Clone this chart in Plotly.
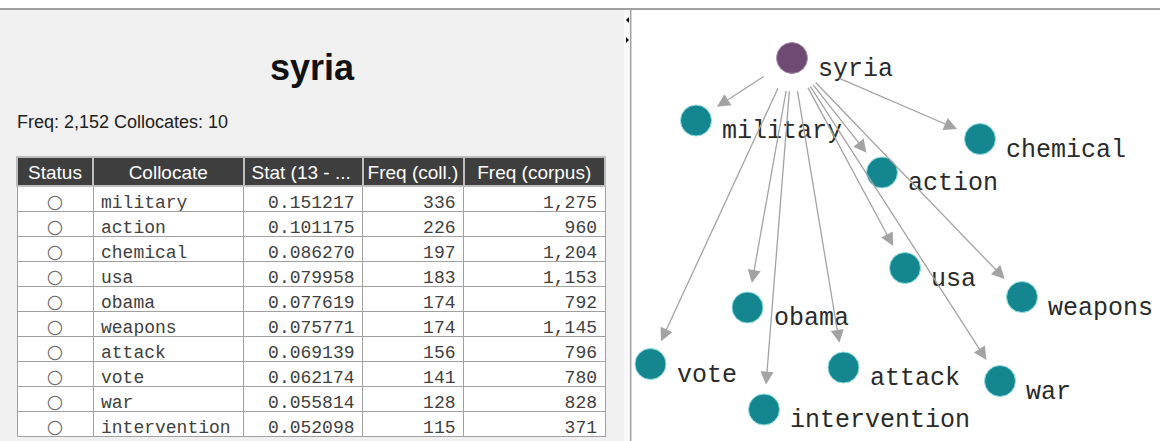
import plotly.graph_objects as go

# ---------------- data ----------------
node_word = "syria"
node_freq = 2152

collocates = ["military", "action", "chemical", "usa", "obama",
              "weapons", "attack", "vote", "war", "intervention"]
stat_values = [0.151217, 0.101175, 0.086270, 0.079958, 0.077619,
               0.075771, 0.069139, 0.062174, 0.055814, 0.052098]
freq_coll = [336, 226, 197, 183, 174, 174, 156, 141, 128, 115]
freq_corpus = [1275, 960, 1204, 1153, 792, 1145, 796, 780, 828, 371]
status = ["\u25cb"] * len(collocates)
column_headers = ["Status", "Collocate", "Stat (13 - ...", "Freq (coll.)", "Freq (corpus)"]

# network layout (positions of the nodes in the graph view)
graph_nodes = [node_word] + collocates
graph_x = [792, 696, 882, 980, 905, 747.5, 1022, 843.5, 650.5, 1000, 764]
graph_y = [58, 120.5, 172.5, 139, 268, 307.5, 297, 367.5, 364, 381, 409.5]

# ---------------- styles ----------------
W, H = 1160, 441
PANEL_BG = "#f0f0f0"
NODE_COLOR = "#13868f"
HUB_COLOR = "#6f4a73"
EDGE_COLOR = "#a3a3a3"
MONO = "Liberation Mono"
SANS = "Liberation Sans"

fig = go.Figure()

# ---- table (left panel)
table_left, table_right, table_top = 17, 605, 157
fig.add_trace(go.Table(
    domain=dict(x=[table_left / W, table_right / W], y=[0, 1 - table_top / H]),
    columnwidth=[76, 150.5, 119, 101, 141.5],
    header=dict(
        values=[h.replace(" ", "\u00a0") for h in column_headers],
        fill_color="#3e3e3e",
        line=dict(color="#bdbdbd", width=2),
        font=dict(family=SANS, size=19, color="white"),
        align=["center", "center", "left", "center", "center"],
        height=29,
    ),
    cells=dict(
        values=[status, collocates, stat_values, freq_coll, freq_corpus],
        format=["", "", ".6f", "d", ",d"],
        fill_color="white",
        line=dict(color="#a0a0a0", width=1),
        font=dict(family=["DejaVu Sans", MONO, MONO, MONO, MONO],
                  size=[19, 18, 18, 18, 18],
                  color=["#6a6a6a", "#404040", "#404040", "#404040", "#404040"]),
        align=["center", "left", "right", "right", "right"],
        height=25,
    ),
))

# ---- nodes (right panel)
fig.add_trace(go.Scatter(
    x=graph_x, y=graph_y, mode="markers",
    marker=dict(size=31,
                color=[HUB_COLOR] + [NODE_COLOR] * len(collocates),
                line=dict(width=1, color=["#a58fa8"] + ["#8fdde2"] * len(collocates))),
    hoverinfo="text", text=graph_nodes, showlegend=False,
))

annotations = []
# node labels
for name, x, y in zip(graph_nodes, graph_x, graph_y):
    annotations.append(dict(
        x=x, y=y, xref="x", yref="y", text=name, showarrow=False,
        xanchor="left", yanchor="middle", xshift=24, yshift=-11,
        font=dict(family=MONO, size=25, color="#2a2a2a"),
    ))
# edges hub -> collocate
start_gap = {"chemical": 50}
for name, x, y in zip(collocates, graph_x[1:], graph_y[1:]):
    annotations.append(dict(
        x=x, y=y, xref="x", yref="y",
        ax=graph_x[0], ay=graph_y[0], axref="x", ayref="y",
        text="", showarrow=True, arrowhead=2, arrowsize=2, arrowwidth=1.3,
        arrowcolor=EDGE_COLOR, standoff=25, startstandoff=start_gap.get(name, 32),
    ))
# title + info
annotations.append(dict(
    x=312, y=67, xref="x", yref="y", text=f"<b>{node_word}</b>", showarrow=False,
    xanchor="center", yanchor="middle", font=dict(family=SANS, size=36, color="#111111"),
))
annotations.append(dict(
    x=15, y=122, xref="x", yref="y",
    text=f"Freq: {node_freq:,} Collocates: {len(collocates)}", showarrow=False,
    xanchor="left", yanchor="middle", font=dict(family=SANS, size=18, color="#202020"),
))

shapes = [
    dict(type="rect", xref="x", yref="y", x0=0, x1=624, y0=10, y1=H,
         fillcolor=PANEL_BG, line=dict(width=0), layer="below"),
    dict(type="rect", xref="x", yref="y", x0=624, x1=630, y0=10, y1=H,
         fillcolor="#f8f8f8", line=dict(width=0), layer="below"),
    dict(type="line", xref="x", yref="y", x0=630.7, x1=630.7, y0=10, y1=H,
         line=dict(color="#a0a0a0", width=1.5), layer="below"),
    dict(type="line", xref="x", yref="y", x0=0, x1=W, y0=9, y1=9,
         line=dict(color="#a0a0a0", width=2), layer="below"),
    dict(type="path", xref="x", yref="y", path="M 629 17 L 626 20 L 629 23 Z",
         fillcolor="black", line=dict(width=0)),
    dict(type="path", xref="x", yref="y", path="M 626 37 L 629 40 L 626 43 Z",
         fillcolor="black", line=dict(width=0)),
]

fig.update_layout(
    width=W, height=H, margin=dict(l=0, r=0, t=0, b=0),
    paper_bgcolor="white", plot_bgcolor="rgba(0,0,0,0)",
    xaxis=dict(range=[0, W], visible=False, fixedrange=True, domain=[0, 1]),
    yaxis=dict(range=[H, 0], visible=False, fixedrange=True, domain=[0, 1]),
    annotations=annotations, shapes=shapes, showlegend=False,
)

fig.write_html("out.html", config={"displayModeBar": False},
               post_script="document.body.style.margin='0';document.body.style.overflow='hidden';")
